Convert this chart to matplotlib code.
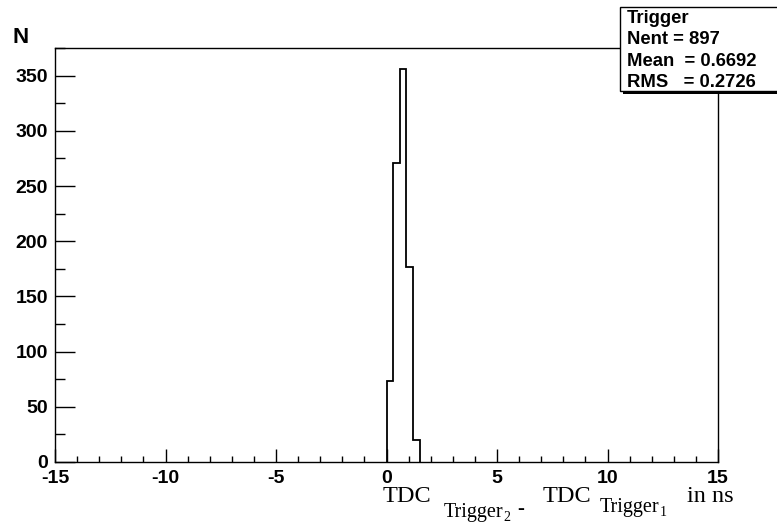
import numpy as np
import matplotlib
matplotlib.use("Agg")
import matplotlib.pyplot as plt
from matplotlib.patches import Rectangle

# ---- data ----
bin_edges = [0.0, 0.3, 0.6, 0.9, 1.2, 1.5]
counts = [73, 271, 356, 177, 20]
x_range = (-15, 15)
y_max = 374
y_major = [0, 50, 100, 150, 200, 250, 300, 350]
x_major = [-15, -10, -5, 0, 5, 10, 15]
stats_lines = ["Trigger", "Nent = 897", "Mean  = 0.6692", "RMS   = 0.2726"]

W, H = 777, 530
fig = plt.figure(figsize=(W / 100, H / 100), dpi=100)
fig.patch.set_facecolor("white")

def fx(px):
    return px / W

def fy(py):
    return 1 - py / H

L, R, T, B = 55, 718, 48, 462
ax = fig.add_axes([fx(L), fy(B), fx(R) - fx(L), fy(T) - fy(B)])

ax.stairs(counts, bin_edges, baseline=0, color="black", linewidth=1.3)

ax.set_xlim(*x_range)
ax.set_ylim(0, y_max)
ax.set_xticks(x_major)
ax.set_xticks(np.arange(-15, 16, 1), minor=True)
ax.set_yticks(y_major)
ax.set_yticks(np.arange(0, 376, 25), minor=True)

sans = ["Liberation Sans", "DejaVu Sans"]
serif = ["Liberation Serif", "DejaVu Serif"]
tick_font = dict(family=sans, weight="bold", size=14)
ax.set_xticklabels([str(v) for v in x_major], **tick_font)
ax.set_yticklabels([str(v) for v in y_major], **tick_font)

ax.tick_params(axis="x", which="major", direction="in", length=9.5, width=1, pad=6)
ax.tick_params(axis="x", which="minor", direction="in", length=4.5, width=1)
ax.tick_params(axis="y", which="major", direction="in", length=14.5, width=1, pad=5)
ax.tick_params(axis="y", which="minor", direction="in", length=7.2, width=1)
for s in ax.spines.values():
    s.set_linewidth(1.0)
    s.set_color("black")

# y label "N"
fig.text(fx(21), fy(43), "N", ha="center", va="baseline",
         family=sans, weight="bold", size=16)

# x label pieces (ROOT TLatex style)
def t(x, y, s, size):
    fig.text(fx(x), fy(y), s, ha="left", va="baseline", family=serif, size=size)

t(383, 502, "TDC", 17.5)
t(444, 517, "Trigger", 14.5)
t(503, 521, "2", 10)
t(517, 514, "-", 15)
t(543, 502, "TDC", 17.5)
t(600, 512, "Trigger", 14.5)
t(660, 516, "1", 10)
t(687, 502, "in ns", 17.5)

# stats box
bx0, by0, bx1, by1 = 620, 7, 780, 91
shadow = Rectangle((fx(bx0 + 3), fy(by1 + 3)), fx(bx1) - fx(bx0), fy(by0) - fy(by1),
                   transform=fig.transFigure, facecolor="black", edgecolor="black",
                   linewidth=0, zorder=5)
box = Rectangle((fx(bx0), fy(by1)), fx(bx1) - fx(bx0), fy(by0) - fy(by1),
                transform=fig.transFigure, facecolor="white", edgecolor="black",
                linewidth=1.0, zorder=6)
fig.patches.extend([shadow, box])
for i, line in enumerate(stats_lines):
    fig.text(fx(627), fy(23 + 21.3 * i), line, ha="left", va="baseline",
             family=sans, weight="bold", size=13.3, zorder=7)

fig.savefig("out.png", dpi=100)
